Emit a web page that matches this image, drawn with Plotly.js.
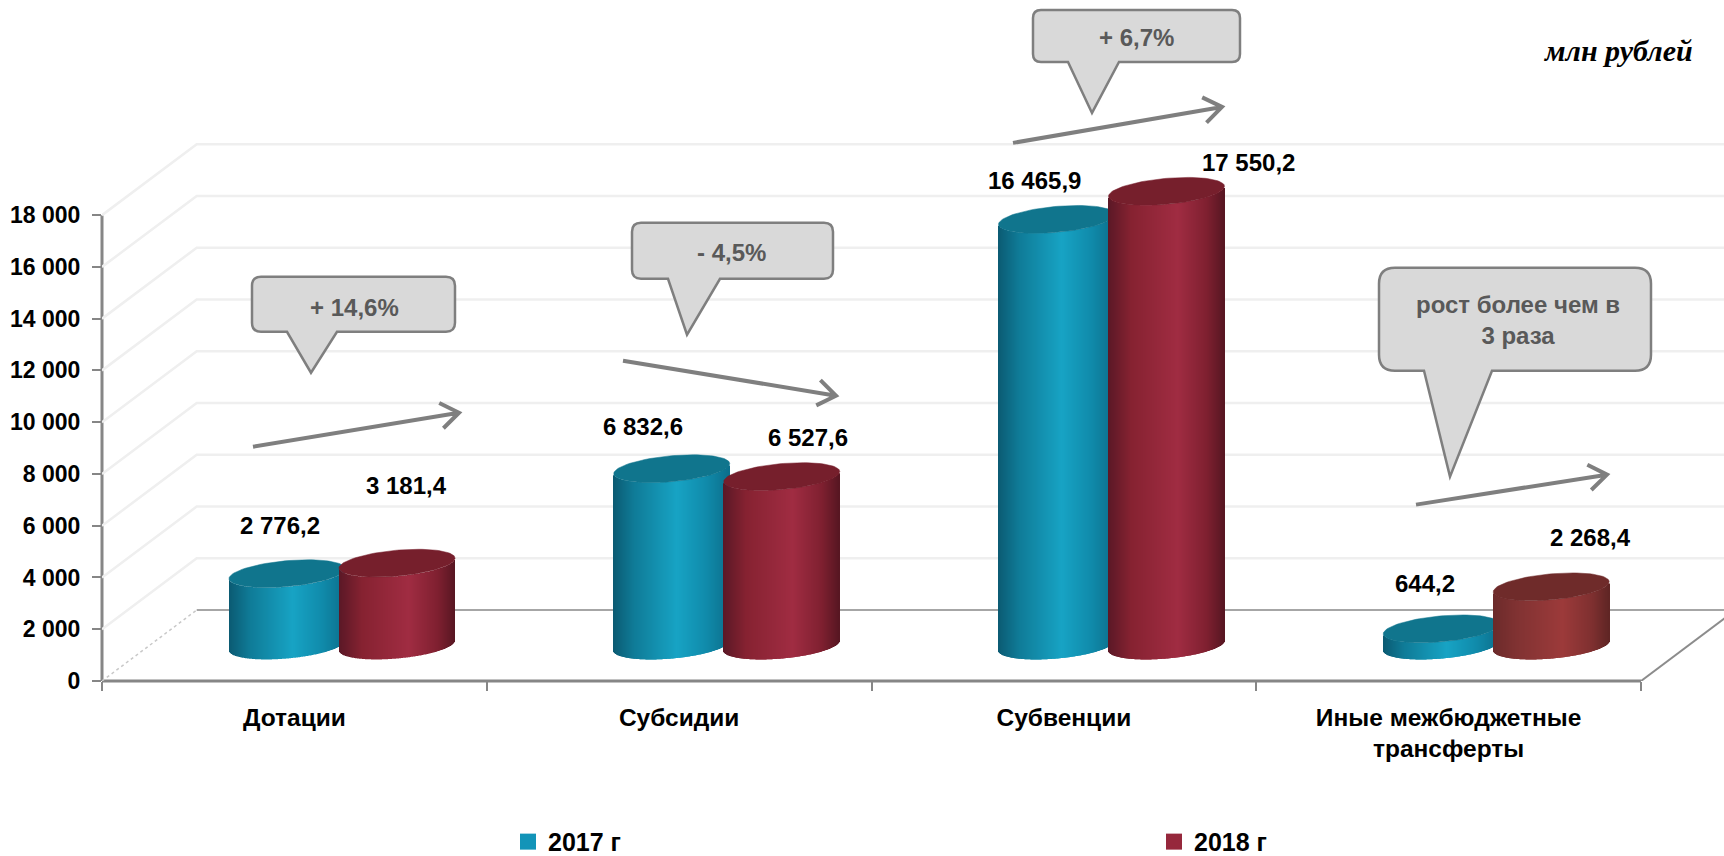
<!DOCTYPE html>
<html>
<head>
<meta charset="utf-8">
<script src="https://cdn.plot.ly/plotly-3.0.1.min.js"></script>
<style>html,body{margin:0;padding:0;background:#fff}#chart{width:1724px;height:856px}</style>
</head>
<body>
<div id="chart"></div>
<script>
// ---- data ----
const categories = ['Дотации', 'Субсидии', 'Субвенции', 'Иные межбюджетные<br>трансферты'];
const values2017 = [2776.2, 6832.6, 16465.9, 644.2];
const values2018 = [3181.4, 6527.6, 17550.2, 2268.4];
const yTicks = [0, 2000, 4000, 6000, 8000, 10000, 12000, 14000, 16000, 18000];
const yTickLabels = ['0', '2 000', '4 000', '6 000', '8 000', '10 000', '12 000', '14 000', '16 000', '18 000'];
const labels2017 = ['2 776,2', '6 832,6', '16 465,9', '644,2'];
const labels2018 = ['3 181,4', '6 527,6', '17 550,2', '2 268,4'];
const seriesNames = ['2017 г', '2018 г'];
const calloutTexts = ['+ 14,6%', '- 4,5%', '+ 6,7%', 'рост более чем в<br>3 раза'];

// ---- geometry of the frame ----
const FONT = '"Liberation Sans",Arial,sans-serif';
const L = 102, B = 681.5, T = 10, W = 1724;
const plotW = W - L, plotH = B - T;
const unit = 384.75;                 // px per category
const sy = 51.8 / 2000;              // px per value unit
const xMax = plotW / unit, yMax = plotH / sy;
const px = p => (p - L) / plotW;     // page px -> paper
const py = p => (B - p) / plotH;
const depthX = 94.7 / unit, depthY = 71 / sy;   // back wall offset
const baseOff = 35.5 / sy;           // cylinders stand mid-floor
const halfW = 58 / unit;
const k = 5 / sy, b = 13 / sy;       // sheared ellipse
const c2017 = 185 / unit, c2018 = 295 / unit;

const hex = h => [1, 3, 5].map(i => parseInt(h.substr(i, 2), 16));
function ramp(stops, u) {
  for (let i = 1; i < stops.length; i++) {
    if (u <= stops[i][0]) {
      const t = (u - stops[i - 1][0]) / (stops[i][0] - stops[i - 1][0]);
      const a = hex(stops[i - 1][1]), c = hex(stops[i][1]);
      return 'rgb(' + a.map((v, j) => Math.round(v + (c[j] - v) * t)).join(',') + ')';
    }
  }
  return stops[stops.length - 1][1];
}
const tealRamp = [[0, '#0b5a72'], [0.18, '#0f7b97'], [0.55, '#17a3c4'], [0.8, '#108bab'], [1, '#0c6f8c']];
const maroonRamp = [[0, '#5a1826'], [0.2, '#862231'], [0.6, '#a02c42'], [0.85, '#7f2030'], [1, '#571622']];
const brownRamp = [[0, '#6b2a2a'], [0.2, '#803232'], [0.6, '#9c3a3a'], [0.85, '#7f3030'], [1, '#5f2524']];

const traces = [];

// back wall / side wall grid
yTicks.forEach(v => {
  if (v === 0) return;
  traces.push({ type: 'scatter', mode: 'lines', x: [0, depthX, xMax], y: [v, v + depthY, v + depthY],
    line: { color: '#efefef', width: 2.5 }, hoverinfo: 'skip', showlegend: false, zorder: 0 });
});
// floor
traces.push({ type: 'scatter', mode: 'lines', x: [depthX, xMax], y: [depthY, depthY],
  line: { color: '#a6a6a6', width: 2 }, hoverinfo: 'skip', showlegend: false, zorder: 0 });
traces.push({ type: 'scatter', mode: 'lines', x: [0, depthX], y: [0, depthY],
  line: { color: '#c8c8c8', width: 1.5, dash: 'dot' }, hoverinfo: 'skip', showlegend: false, zorder: 0 });
traces.push({ type: 'scatter', mode: 'lines', x: [4, 4 + depthX], y: [0, depthY],
  line: { color: '#8c8c8c', width: 2 }, hoverinfo: 'skip', showlegend: false, zorder: 0 });

function cylinder(i, value, offset, stops, topColor, z) {
  const cx = i + offset, n = 116, xs = [], ys = [], bases = [], cols = [];
  for (let s = 0; s < n; s++) {
    const u = (s + 0.5) / n * 2 - 1;
    xs.push(cx + u * halfW);
    ys.push(value);
    bases.push(baseOff + k * u - b * Math.sqrt(1 - u * u));
    cols.push(ramp(stops, (u + 1) / 2));
  }
  traces.push({ type: 'bar', x: xs, y: ys, base: bases, width: 1 / unit,
    marker: { color: cols, line: { width: 0 } }, hoverinfo: 'skip', showlegend: false, zorder: z });
  const ex = [], ey = [];
  for (let d = 0; d <= 360; d += 4) {
    const t = d * Math.PI / 180;
    ex.push(cx + halfW * Math.cos(t));
    ey.push(value + baseOff + k * Math.cos(t) + b * Math.sin(t));
  }
  traces.push({ type: 'scatter', mode: 'lines', x: ex, y: ey, fill: 'toself', fillcolor: topColor,
    line: { color: topColor, width: 0.5 }, hoverinfo: 'skip', showlegend: false, zorder: z + 1 });
}
values2017.forEach((v, i) => cylinder(i, v, c2017, tealRamp, '#10758d', 1));
values2018.forEach((v, i) => cylinder(i, v, c2018, i === 3 ? brownRamp : maroonRamp, i === 3 ? '#6f2b2a' : '#761f2c', 3));

// legend entries
[['#1294b8', 0], ['#96283c', 1]].forEach(([col, j]) => {
  traces.push({ type: 'scatter', mode: 'markers', name: seriesNames[j], x: [-1], y: [-1000],
    marker: { symbol: 'square', size: 16, color: col }, hoverinfo: 'skip', showlegend: true });
});

// ---- callouts and trend arrows (page-level decoration) ----
function calloutPath(x0, y0, x1, y1, r, t0, t1, tipX, tipY) {
  const P = (x, y) => px(x).toFixed(5) + ',' + py(y).toFixed(5);
  return 'M' + P(x0 + r, y0) + ' L' + P(x1 - r, y0) + ' Q' + P(x1, y0) + ' ' + P(x1, y0 + r) +
    ' L' + P(x1, y1 - r) + ' Q' + P(x1, y1) + ' ' + P(x1 - r, y1) +
    ' L' + P(t1, y1) + ' L' + P(tipX, tipY) + ' L' + P(t0, y1) +
    ' L' + P(x0 + r, y1) + ' Q' + P(x0, y1) + ' ' + P(x0, y1 - r) +
    ' L' + P(x0, y0 + r) + ' Q' + P(x0, y0) + ' ' + P(x0 + r, y0) + ' Z';
}
const callouts = [
  { box: [252, 277, 455, 332, 9], tail: [287, 337, 311, 373], text: [354, 308] },
  { box: [632, 223, 833, 279, 9], tail: [668, 720, 687, 335], text: [731, 253] },
  { box: [1033, 10, 1240, 62, 8], tail: [1068, 1119, 1092, 113], text: [1136, 38] },
  { box: [1379, 268, 1651, 371, 16], tail: [1424, 1492, 1450, 477], text: [1518, 320] }
];
const arrows = [
  [253, 447, 459, 413], [623, 361, 836, 396], [1013, 143, 1222, 107], [1416, 505, 1607, 475]
];
const shapes = [], annotations = [];

// axis lines, spanning the tick range
shapes.push({ type: 'line', xref: 'paper', yref: 'paper', layer: 'below', x0: 0, x1: 0, y0: 0,
  y1: yTicks[yTicks.length - 1] / yMax, line: { color: '#868686', width: 3 } });
shapes.push({ type: 'line', xref: 'paper', yref: 'paper', layer: 'below', x0: 0, x1: categories.length / xMax, y0: 0, y1: 0,
  line: { color: '#868686', width: 3 } });

callouts.forEach((c, i) => {
  shapes.push({ type: 'path', xref: 'paper', yref: 'paper', layer: 'above',
    path: calloutPath(c.box[0], c.box[1], c.box[2], c.box[3], c.box[4], c.tail[0], c.tail[1], c.tail[2], c.tail[3]),
    fillcolor: '#d9d9d9', line: { color: '#7f7f7f', width: 2.5 } });
  annotations.push({ xref: 'paper', yref: 'paper', x: px(c.text[0]), y: py(c.text[1]), text: '<b>' + calloutTexts[i] + '</b>',
    showarrow: false, xanchor: 'center', yanchor: 'middle', align: 'center',
    font: { family: FONT, size: 24, color: '#595959' } });
});
arrows.forEach(a => {
  const ang = Math.atan2(a[3] - a[1], a[2] - a[0]), len = 22, sp = 0.62;
  const hx1 = a[2] - len * Math.cos(ang - sp), hy1 = a[3] - len * Math.sin(ang - sp);
  const hx2 = a[2] - len * Math.cos(ang + sp), hy2 = a[3] - len * Math.sin(ang + sp);
  const P = (x, y) => px(x).toFixed(5) + ',' + py(y).toFixed(5);
  shapes.push({ type: 'path', xref: 'paper', yref: 'paper', layer: 'above',
    path: 'M' + P(a[0], a[1]) + ' L' + P(a[2], a[3]) + ' M' + P(hx1, hy1) + ' L' + P(a[2], a[3]) + ' L' + P(hx2, hy2),
    line: { color: '#7f7f7f', width: 4 } });
});

// data labels
const labelPos2017 = [[280, 526], [643, 427], [1034, 181], [1425, 584]];
const labelPos2018 = [[406, 486], [808, 438], [1248, 163], [1590, 538]];
function addLabel(text, pos) {
  annotations.push({ xref: 'paper', yref: 'paper', x: px(pos[0]), y: py(pos[1]), text: '<b>' + text + '</b>',
    showarrow: false, xanchor: 'center', yanchor: 'middle', font: { family: FONT, size: 24, color: '#000' } });
}
labels2017.forEach((t, i) => addLabel(t, labelPos2017[i]));
labels2018.forEach((t, i) => addLabel(t, labelPos2018[i]));

// unit note
annotations.push({ xref: 'paper', yref: 'paper', x: px(1618), y: py(51), text: '<b><i>млн рублей</i></b>',
  showarrow: false, xanchor: 'center', yanchor: 'middle',
  font: { family: '"Liberation Serif","Times New Roman",serif', size: 30, color: '#000' } });

const layout = {
  width: W, height: 856, autosize: false,
  margin: { l: L, r: 0, t: T, b: 856 - B, pad: 0, autoexpand: false },
  paper_bgcolor: '#fff', plot_bgcolor: 'rgba(0,0,0,0)',
  barmode: 'overlay', showlegend: true, hovermode: false,
  font: { family: FONT, color: '#000' },
  xaxis: {
    range: [0, xMax], showgrid: false, zeroline: false, showline: false, fixedrange: true,
    tickmode: 'array', tickvals: [0.5, 1.5, 2.5, 3.5], ticktext: categories.map(c => '<b>' + c + '</b>'),
    ticks: '', ticklabelstandoff: 19, tickfont: { family: FONT, size: 24.5, color: '#000' }, tickangle: 0,
    minor: { tickmode: 'array', tickvals: [0, 1, 2, 3, 4], ticks: 'outside', ticklen: 9, tickwidth: 2, tickcolor: '#868686', showgrid: false }
  },
  yaxis: {
    range: [0, yMax], showgrid: false, zeroline: false, showline: false, fixedrange: true,
    tickmode: 'array', tickvals: yTicks, ticktext: yTickLabels.map(t => '<b>' + t + '</b>'),
    ticks: 'outside', ticklen: 9, tickwidth: 2, tickcolor: '#868686', ticklabelstandoff: 7,
    tickfont: { family: FONT, size: 23, color: '#000' }
  },
  legend: {
    orientation: 'h', x: px(508), y: py(842.5), xanchor: 'left', yanchor: 'middle',
    entrywidthmode: 'pixels', entrywidth: 601, traceorder: 'normal', bgcolor: 'rgba(0,0,0,0)',
    font: { family: FONT, size: 25, color: '#000', weight: 'bold' }
  },
  shapes, annotations
};
Plotly.newPlot('chart', traces, layout, { displayModeBar: false, staticPlot: false, responsive: false });
</script>
</body>
</html>
